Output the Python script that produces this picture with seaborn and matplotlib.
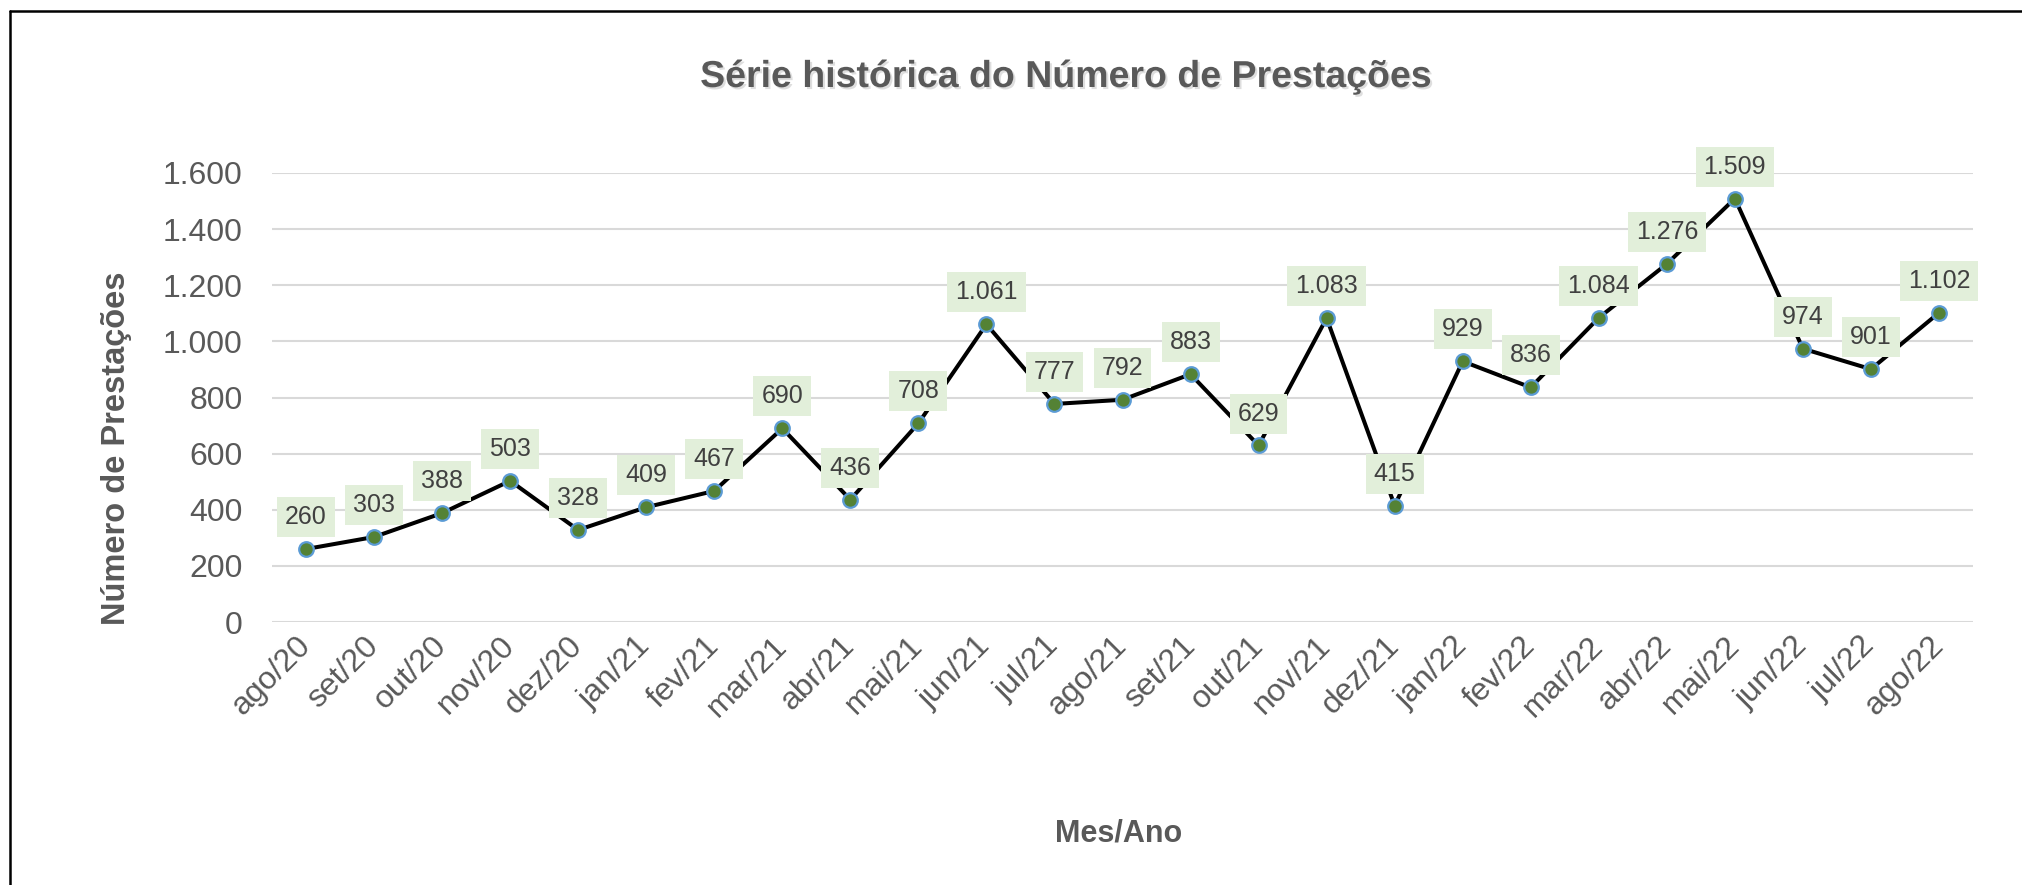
import matplotlib
matplotlib.use("Agg")
import matplotlib.pyplot as plt
import matplotlib.patheffects as pe
from matplotlib.lines import Line2D
from matplotlib.ticker import FuncFormatter
import seaborn as sns
import pandas as pd

# data
meses = ["ago/20", "set/20", "out/20", "nov/20", "dez/20", "jan/21", "fev/21",
         "mar/21", "abr/21", "mai/21", "jun/21", "jul/21", "ago/21", "set/21",
         "out/21", "nov/21", "dez/21", "jan/22", "fev/22", "mar/22", "abr/22",
         "mai/22", "jun/22", "jul/22", "ago/22"]
prestacoes = [260, 303, 388, 503, 328, 409, 467, 690, 436, 708, 1061, 777, 792,
              883, 629, 1083, 415, 929, 836, 1084, 1276, 1509, 974, 901, 1102]
y_ticks = [0, 200, 400, 600, 800, 1000, 1200, 1400, 1600]

df = pd.DataFrame({"Mes/Ano": meses, "Prestacoes": prestacoes})


def fmt_br(v):
    return f"{int(v):,}".replace(",", ".")


sns.set_theme(style="white")
plt.rcParams["font.family"] = ["Liberation Sans", "DejaVu Sans"]

gray = "#595959"

fig = plt.figure(figsize=(20.22, 8.85), dpi=100)
ax = fig.add_axes([272 / 2022, 1 - 622 / 885, (1973 - 272) / 2022, 449 / 885])

sns.lineplot(data=df, x="Mes/Ano", y="Prestacoes", ax=ax, sort=False,
             color="black", linewidth=2.9, marker="o", markersize=10.5,
             markerfacecolor="#548235", markeredgecolor="#5B9BD5",
             markeredgewidth=1.6, zorder=3)

for i, v in enumerate(prestacoes):
    ax.annotate(fmt_br(v), (i, v), xytext=(0, 23), textcoords="offset points",
                ha="center", va="center", fontsize=18, color="#404040",
                bbox=dict(boxstyle="square,pad=0.32", fc="#E2EFDA", ec="none"),
                zorder=4)

ax.set_xlim(-0.5, len(meses) - 0.5)
ax.set_ylim(0, 1600)
ax.set_yticks(y_ticks)
ax.yaxis.set_major_formatter(FuncFormatter(lambda v, p: fmt_br(v)))
ax.grid(axis="y", color="#D9D9D9", linewidth=1.5)
ax.grid(axis="x", visible=False)
for s in ax.spines.values():
    s.set_visible(False)

ax.tick_params(axis="y", length=0, pad=21, labelsize=23, labelcolor=gray)
ax.tick_params(axis="x", length=0, pad=14, labelsize=23, labelcolor=gray)
plt.setp(ax.get_xticklabels(), rotation=45, ha="right", va="center",
         rotation_mode="anchor")

ax.set_xlabel("")
ax.set_ylabel("Número de Prestações", fontsize=23.5, fontweight="bold", color=gray)
ax.yaxis.set_label_coords(-0.0825, 0.3875)

fig.text(1119 / 2022, 1 - 834 / 885, "Mes/Ano", ha="center", va="center",
         fontsize=22, fontweight="bold", color=gray)

title = fig.text(1066 / 2022, 1 - 77 / 885, "Série histórica do Número de Prestações",
                 ha="center", va="center", fontsize=27, fontweight="bold", color=gray)
title.set_path_effects([pe.withSimplePatchShadow(offset=(1.5, -1.5), alpha=0.25,
                                                 shadow_rgbFace="#7f7f7f")])

# chart border (left and top edges visible in the crop)
fig.add_artist(Line2D([9.5 / 2022, 9.5 / 2022], [0, 1 - 10.5 / 885],
                      color="black", linewidth=1.8, transform=fig.transFigure))
fig.add_artist(Line2D([9.5 / 2022, 1], [1 - 10.5 / 885, 1 - 10.5 / 885],
                      color="black", linewidth=1.8, transform=fig.transFigure))

fig.savefig("out.png", dpi=100, facecolor="white")
